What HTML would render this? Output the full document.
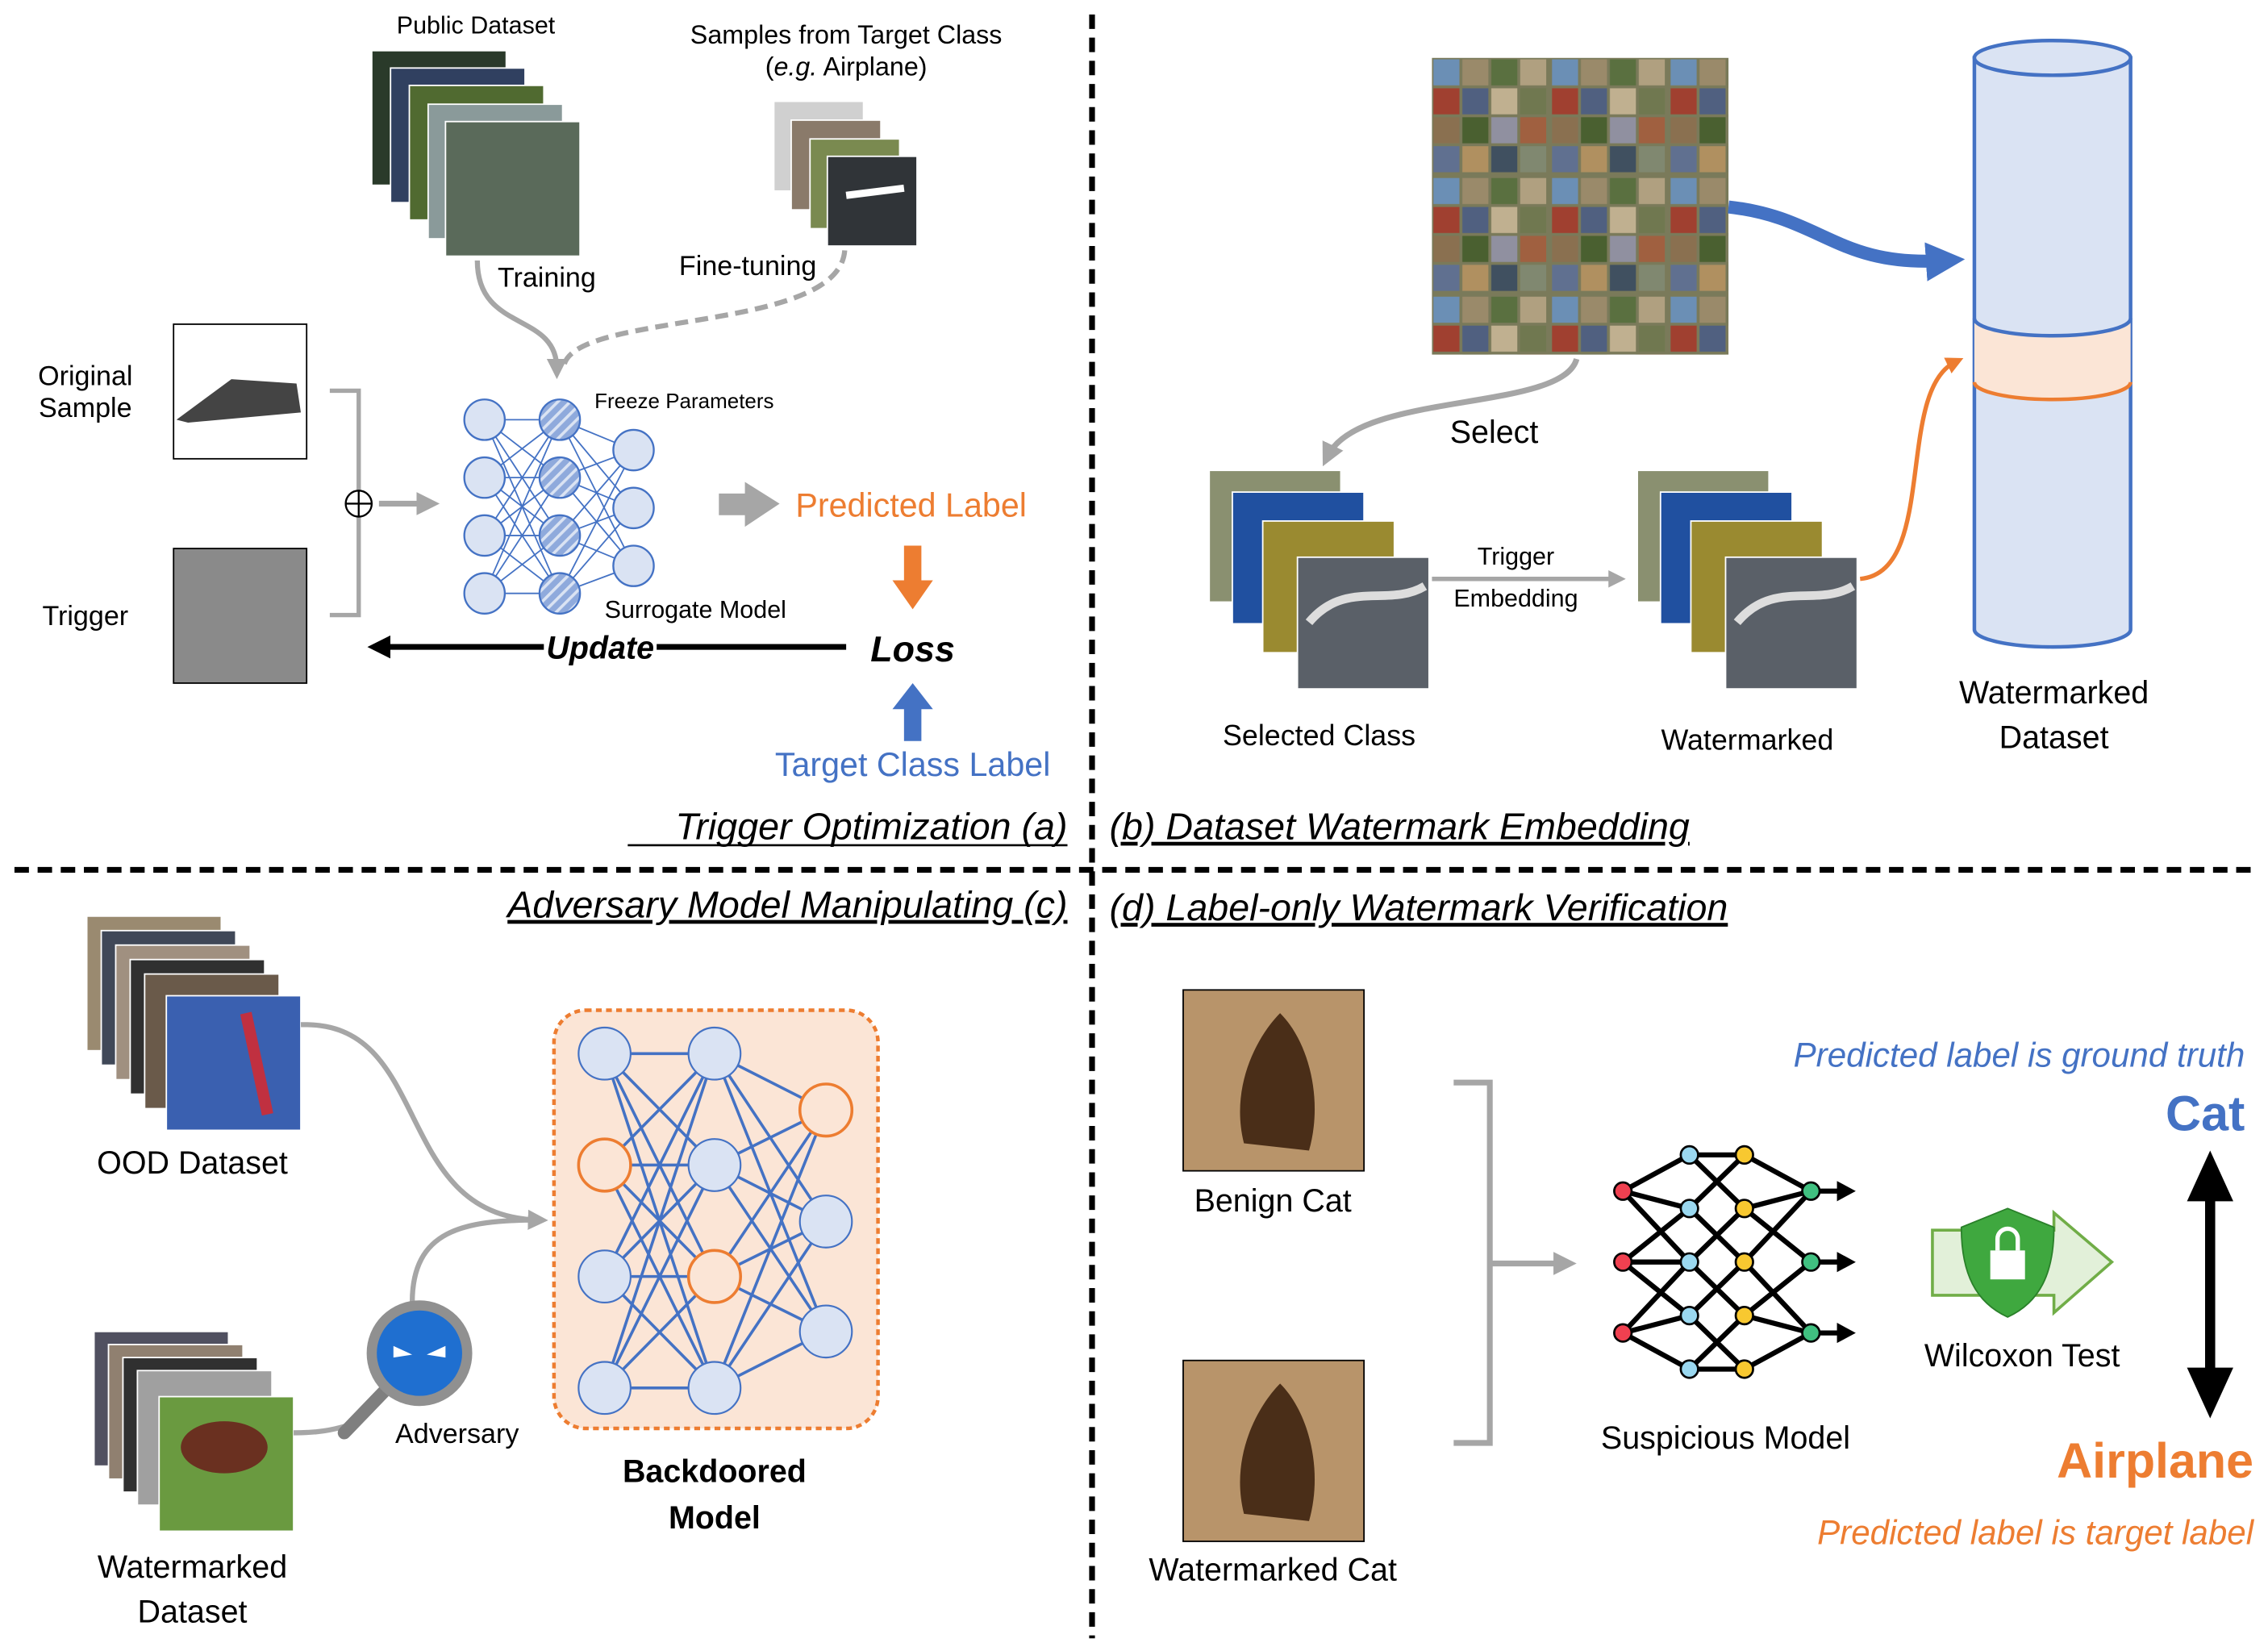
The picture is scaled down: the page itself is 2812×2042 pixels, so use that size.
<!DOCTYPE html>
<html><head><meta charset="utf-8"><style>html,body{margin:0;padding:0;background:#fff}svg{display:block}text{font-family:"Liberation Sans",sans-serif}</style></head><body>
<svg width="2812" height="2042" viewBox="0 0 1568 1138" preserveAspectRatio="none" xmlns="http://www.w3.org/2000/svg">
<defs>
<pattern id="st" width="6" height="6" patternUnits="userSpaceOnUse" patternTransform="rotate(45)"><rect width="6" height="6" fill="#8faadc"/><rect width="2" height="6" fill="#dae3f3"/></pattern>
<pattern id="grid" width="82" height="82" patternUnits="userSpaceOnUse" x="990" y="40">
<rect width="82" height="82" fill="#7a7a5a"/>
<rect x="1" y="1" width="18" height="18" fill="#6b8fb5"/><rect x="21" y="1" width="18" height="18" fill="#9a8a6a"/><rect x="41" y="1" width="18" height="18" fill="#5a7040"/><rect x="61" y="1" width="18" height="18" fill="#b0a080"/>
<rect x="1" y="21" width="18" height="18" fill="#a04030"/><rect x="21" y="21" width="18" height="18" fill="#506080"/><rect x="41" y="21" width="18" height="18" fill="#c0b090"/><rect x="61" y="21" width="18" height="18" fill="#707850"/>
<rect x="1" y="41" width="18" height="18" fill="#8a7050"/><rect x="21" y="41" width="18" height="18" fill="#4a6030"/><rect x="41" y="41" width="18" height="18" fill="#9090a0"/><rect x="61" y="41" width="18" height="18" fill="#a06040"/>
<rect x="1" y="61" width="18" height="18" fill="#607090"/><rect x="21" y="61" width="18" height="18" fill="#b09060"/><rect x="41" y="61" width="18" height="18" fill="#405060"/><rect x="61" y="61" width="18" height="18" fill="#808870"/>
</pattern>
<marker id="ag" markerWidth="4" markerHeight="4" refX="2" refY="2" orient="auto"><path d="M0,0 L4,2 L0,4z" fill="#a6a6a6"/></marker>
<marker id="ao" markerWidth="4" markerHeight="4" refX="2" refY="2" orient="auto"><path d="M0,0 L4,2 L0,4z" fill="#ed7d31"/></marker>
<marker id="ab" markerWidth="3" markerHeight="3" refX="1.5" refY="1.5" orient="auto"><path d="M0,0 L3,1.5 L0,3z" fill="#4472c4"/></marker>
<marker id="ak" markerWidth="4" markerHeight="4" refX="2" refY="2" orient="auto"><path d="M0,0 L4,2 L0,4z" fill="#000"/></marker>
</defs>
<line x1="755" y1="10" x2="755" y2="1132" stroke="#000" stroke-width="4" stroke-dasharray="10 6"/>
<line x1="10" y1="601" x2="1562" y2="601" stroke="#000" stroke-width="4" stroke-dasharray="10 6"/>

<!-- PANEL A -->
<text x="329" y="23" font-size="17" text-anchor="middle">Public Dataset</text>
<g stroke="#fff" stroke-width="1">
<rect x="257" y="35" width="93" height="93" fill="#2a3a2a"/><rect x="270" y="47" width="93" height="93" fill="#304060"/><rect x="283" y="59" width="93" height="93" fill="#506a30"/><rect x="296" y="72" width="93" height="93" fill="#8a9a9a"/><rect x="308" y="84" width="93" height="93" fill="#5a6a5a"/></g>
<text x="585" y="30" font-size="18" text-anchor="middle">Samples from Target Class</text>
<text x="585" y="52" font-size="18" text-anchor="middle">(<tspan font-style="italic">e.g.</tspan> Airplane)</text>
<g stroke="#fff"><rect x="535" y="70" width="62" height="62" fill="#d0d0d0"/><rect x="547" y="83" width="62" height="62" fill="#8a7a6a"/><rect x="560" y="96" width="62" height="62" fill="#7a8a50"/><rect x="572" y="108" width="62" height="62" fill="#303438"/></g>
<path d="M585,135 L625,130" stroke="#fff" stroke-width="5"/>
<text x="378" y="198" font-size="19" text-anchor="middle">Training</text>
<text x="517" y="190" font-size="19" text-anchor="middle">Fine-tuning</text>
<path d="M330,180 C330,230 385,215 385,255" fill="none" stroke="#a6a6a6" stroke-width="3.5" marker-end="url(#ag)"/>
<path d="M584,173 C580,230 400,215 390,252" fill="none" stroke="#a6a6a6" stroke-width="3.5" stroke-dasharray="9 5"/>
<text x="59" y="266" font-size="19" text-anchor="middle">Original</text>
<text x="59" y="288" font-size="19" text-anchor="middle">Sample</text>
<rect x="120" y="224" width="92" height="93" fill="#fff" stroke="#000"/>
<path d="M122,290 L160,262 L205,265 L208,285 L130,292z" fill="#444"/>
<text x="59" y="432" font-size="19" text-anchor="middle">Trigger</text>
<rect x="120" y="379" width="92" height="93" fill="#8a8a8a" stroke="#000"/>
<path d="M228,270 H248 V425 H228" fill="none" stroke="#a6a6a6" stroke-width="3"/>
<circle cx="248" cy="348" r="9" fill="#fff" stroke="#000" stroke-width="1.3"/><path d="M239,348 H257 M248,339 V357" stroke="#000" stroke-width="1.3"/>
<line x1="262" y1="348" x2="296" y2="348" stroke="#a6a6a6" stroke-width="4" marker-end="url(#ag)"/>
<g stroke="#4472c4" stroke-width="1" fill="none">
<path d="M335,290 L387,290 M335,290 L387,330 M335,290 L387,370 M335,290 L387,410 M335,330 L387,290 M335,330 L387,330 M335,330 L387,370 M335,330 L387,410 M335,370 L387,290 M335,370 L387,330 M335,370 L387,370 M335,370 L387,410 M335,410 L387,290 M335,410 L387,330 M335,410 L387,370 M335,410 L387,410"/>
<path d="M387,290 L438,311 M387,290 L438,351 M387,290 L438,391 M387,330 L438,311 M387,330 L438,351 M387,330 L438,391 M387,370 L438,311 M387,370 L438,351 M387,370 L438,391 M387,410 L438,311 M387,410 L438,351 M387,410 L438,391"/>
</g>
<g stroke="#4472c4" stroke-width="1.3" fill="#dae3f3">
<circle cx="335" cy="290" r="14"/><circle cx="335" cy="330" r="14"/><circle cx="335" cy="370" r="14"/><circle cx="335" cy="410" r="14"/>
<circle cx="387" cy="290" r="14" fill="url(#st)"/><circle cx="387" cy="330" r="14" fill="url(#st)"/><circle cx="387" cy="370" r="14" fill="url(#st)"/><circle cx="387" cy="410" r="14" fill="url(#st)"/>
<circle cx="438" cy="311" r="14"/><circle cx="438" cy="351" r="14"/><circle cx="438" cy="391" r="14"/></g>
<text x="411" y="282" font-size="14.5">Freeze Parameters</text>
<text x="418" y="427" font-size="17">Surrogate Model</text>
<path d="M497,341 H515 V333 L539,348 L515,364 V356 H497z" fill="#a6a6a6"/>
<text x="550" y="357" font-size="23" fill="#ed7d31">Predicted Label</text>
<path d="M625,377 H637 V401 H645 L631,421 L617,401 H625z" fill="#ed7d31"/>
<text x="631" y="457" font-size="25" font-weight="bold" font-style="italic" text-anchor="middle">Loss</text>
<line x1="585" y1="447" x2="262" y2="447" stroke="#000" stroke-width="4" marker-end="url(#ak)"/>
<rect x="376" y="433" width="78" height="26" fill="#fff"/>
<text x="415" y="455" font-size="22" font-weight="bold" font-style="italic" text-anchor="middle">Update</text>
<path d="M625,512 H637 V490 H645 L631,472 L617,490 H625z" fill="#4472c4"/>
<text x="631" y="536" font-size="23" fill="#4472c4" text-anchor="middle">Target Class Label</text>
<text x="738" y="580" font-size="26" font-style="italic" text-anchor="end">Trigger Optimization (a)</text>
<line x1="434" y1="584" x2="738" y2="584" stroke="#000" stroke-width="1.5"/>

<!-- PANEL B -->
<rect x="990" y="40" width="205" height="205" fill="url(#grid)"/>
<path d="M1195,143 C1260,150 1270,185 1345,180" fill="none" stroke="#4472c4" stroke-width="9" marker-end="url(#ab)"/>
<path d="M1365,40 V435 A54,12 0 0 0 1473,435 V40z" fill="#dae3f3" stroke="#4472c4" stroke-width="2.5"/>
<ellipse cx="1419" cy="40" rx="54" ry="12" fill="#dae3f3" stroke="#4472c4" stroke-width="2.5"/>
<path d="M1365,220 V264 A54,12 0 0 0 1473,264 V220 A54,12 0 0 1 1365,220z" fill="#fbe5d6"/>
<path d="M1365,220 A54,12 0 0 0 1473,220" fill="none" stroke="#4472c4" stroke-width="2.5"/>
<path d="M1365,264 A54,12 0 0 0 1473,264" fill="none" stroke="#ed7d31" stroke-width="2.5"/>
<path d="M1090,248 C1080,285 940,270 918,315" fill="none" stroke="#a6a6a6" stroke-width="4" marker-end="url(#ag)"/>
<text x="1033" y="306" font-size="22" text-anchor="middle">Select</text>
<g stroke="#fff"><rect x="836" y="325" width="91" height="91" fill="#8a9070"/><rect x="852" y="340" width="91" height="91" fill="#2050a0"/><rect x="873" y="360" width="91" height="91" fill="#9a8a30"/><rect x="897" y="385" width="91" height="91" fill="#5a6068"/></g>
<path d="M905,430 C930,400 960,420 985,405" stroke="#ddd" stroke-width="6" fill="none"/>
<text x="912" y="515" font-size="20" text-anchor="middle">Selected Class</text>
<text x="1048" y="390" font-size="17" text-anchor="middle">Trigger</text>
<text x="1048" y="419" font-size="17" text-anchor="middle">Embedding</text>
<line x1="990" y1="400" x2="1118" y2="400" stroke="#a6a6a6" stroke-width="3" marker-end="url(#ag)"/>
<g stroke="#fff"><rect x="1132" y="325" width="91" height="91" fill="#8a9070"/><rect x="1148" y="340" width="91" height="91" fill="#2050a0"/><rect x="1169" y="360" width="91" height="91" fill="#9a8a30"/><rect x="1193" y="385" width="91" height="91" fill="#5a6068"/></g>
<path d="M1201,430 C1226,400 1256,420 1281,405" stroke="#ddd" stroke-width="6" fill="none"/>
<text x="1208" y="518" font-size="20" text-anchor="middle">Watermarked</text>
<path d="M1286,400 C1340,395 1310,270 1352,250" fill="none" stroke="#ed7d31" stroke-width="3" marker-end="url(#ao)"/>
<text x="1420" y="486" font-size="22" text-anchor="middle">Watermarked</text>
<text x="1420" y="517" font-size="22" text-anchor="middle">Dataset</text>
<text x="767" y="580" font-size="26" font-style="italic" text-decoration="underline">(b) Dataset Watermark Embedding</text>

<!-- PANEL C -->
<text x="738" y="634" font-size="26" font-style="italic" text-anchor="end" text-decoration="underline">Adversary Model Manipulating (c)</text>
<g stroke="#fff"><rect x="60" y="633" width="93" height="93" fill="#9a8a70"/><rect x="70" y="643" width="93" height="93" fill="#404858"/><rect x="80" y="653" width="93" height="93" fill="#a09080"/><rect x="90" y="663" width="93" height="93" fill="#303030"/><rect x="100" y="673" width="93" height="93" fill="#6a5a4a"/><rect x="115" y="688" width="93" height="93" fill="#3a60b0"/></g>
<path d="M170,700 L185,770" stroke="#c03040" stroke-width="8"/>
<text x="133" y="811" font-size="22" text-anchor="middle">OOD Dataset</text>
<g stroke="#fff"><rect x="65" y="920" width="93" height="93" fill="#505060"/><rect x="75" y="929" width="93" height="93" fill="#908070"/><rect x="85" y="938" width="93" height="93" fill="#303030"/><rect x="95" y="947" width="93" height="93" fill="#a0a0a0"/><rect x="110" y="965" width="93" height="93" fill="#6a9a40"/></g>
<ellipse cx="155" cy="1000" rx="30" ry="18" fill="#6a3020"/>
<text x="133" y="1090" font-size="22" text-anchor="middle">Watermarked</text>
<text x="133" y="1121" font-size="22" text-anchor="middle">Dataset</text>
<path d="M208,708 C300,705 270,840 372,843" fill="none" stroke="#a6a6a6" stroke-width="3.5" marker-end="url(#ag)"/>
<path d="M285,900 C285,850 320,843 372,843" fill="none" stroke="#a6a6a6" stroke-width="3.5"/>
<path d="M203,990 C220,990 230,988 240,985" stroke="#a6a6a6" stroke-width="3.5" fill="none"/>
<line x1="265" y1="962" x2="238" y2="990" stroke="#7f7f7f" stroke-width="9" stroke-linecap="round"/>
<circle cx="290" cy="935" r="33" fill="#1f6fd0" stroke="#909090" stroke-width="7"/>
<path d="M272,930 L285,936 L272,938z M308,930 L295,936 L308,938z" fill="#fff"/>
<text x="316" y="997" font-size="19" text-anchor="middle">Adversary</text>
<rect x="383" y="698" width="224" height="289" rx="22" fill="#fbe5d6" stroke="#ed7d31" stroke-width="2.5" stroke-dasharray="4 3"/>
<g stroke="#4472c4" stroke-width="2" fill="none">
<path d="M418,728 L494,728 M418,728 L494,805 M418,728 L494,882 M418,728 L494,959 M418,805 L494,728 M418,805 L494,805 M418,805 L494,882 M418,805 L494,959 M418,882 L494,728 M418,882 L494,805 M418,882 L494,882 M418,882 L494,959 M418,959 L494,728 M418,959 L494,805 M418,959 L494,882 M418,959 L494,959"/>
<path d="M494,728 L571,767 M494,728 L571,844 M494,728 L571,920 M494,805 L571,767 M494,805 L571,844 M494,805 L571,920 M494,882 L571,767 M494,882 L571,844 M494,882 L571,920 M494,959 L571,767 M494,959 L571,844 M494,959 L571,920"/></g>
<g stroke="#4472c4" stroke-width="1.2" fill="#dae3f3">
<circle cx="418" cy="728" r="18"/><circle cx="418" cy="805" r="18" fill="#fbe5d6" stroke="#ed7d31" stroke-width="2"/><circle cx="418" cy="882" r="18"/><circle cx="418" cy="959" r="18"/>
<circle cx="494" cy="728" r="18"/><circle cx="494" cy="805" r="18"/><circle cx="494" cy="882" r="18" fill="#fbe5d6" stroke="#ed7d31" stroke-width="2"/><circle cx="494" cy="959" r="18"/>
<circle cx="571" cy="767" r="18" fill="#fbe5d6" stroke="#ed7d31" stroke-width="2"/><circle cx="571" cy="844" r="18"/><circle cx="571" cy="920" r="18"/></g>
<text x="494" y="1024" font-size="22" font-weight="bold" text-anchor="middle">Backdoored</text>
<text x="494" y="1056" font-size="22" font-weight="bold" text-anchor="middle">Model</text>

<!-- PANEL D -->
<text x="767" y="636" font-size="26" font-style="italic" text-decoration="underline">(d) Label-only Watermark Verification</text>
<rect x="818" y="684" width="125" height="125" fill="#b8946a" stroke="#000"/>
<path d="M860,790 C850,750 870,715 885,700 C905,720 915,760 905,795z" fill="#4a2e18"/>
<rect x="818" y="940" width="125" height="125" fill="#b8946a" stroke="#000"/>
<path d="M860,1046 C850,1006 870,971 885,956 C905,976 915,1016 905,1051z" fill="#4a2e18"/>
<text x="880" y="837" font-size="22" text-anchor="middle">Benign Cat</text>
<text x="880" y="1092" font-size="22" text-anchor="middle">Watermarked Cat</text>
<path d="M1005,748 H1030 V997 H1005" fill="none" stroke="#a6a6a6" stroke-width="4"/>
<line x1="1030" y1="873" x2="1082" y2="873" stroke="#a6a6a6" stroke-width="4" marker-end="url(#ag)"/>
<g stroke="#000" stroke-width="3.5" fill="none" stroke-linecap="round">
<path d="M1122,823 L1168,798 M1122,823 L1168,835 M1122,823 L1168,872 M1122,872 L1168,835 M1122,872 L1168,872 M1122,872 L1168,909 M1122,921 L1168,872 M1122,921 L1168,909 M1122,921 L1168,946"/>
<path d="M1168,798 L1206,798 M1168,798 L1206,835 M1168,835 L1206,798 M1168,835 L1206,872 M1168,872 L1206,835 M1168,872 L1206,909 M1168,909 L1206,872 M1168,909 L1206,946 M1168,946 L1206,909 M1168,946 L1206,946"/>
<path d="M1206,798 L1252,823 M1206,835 L1252,823 M1206,835 L1252,872 M1206,872 L1252,823 M1206,872 L1252,921 M1206,909 L1252,872 M1206,909 L1252,921 M1206,946 L1252,921"/>
<path d="M1252,823 H1272 M1252,872 H1272 M1252,921 H1272"/></g>
<path d="M1270,816 L1283,823 L1270,830z M1270,865 L1283,872 L1270,879z M1270,914 L1283,921 L1270,928z" fill="#000"/>
<g stroke="#000" stroke-width="1.5">
<circle cx="1122" cy="823" r="6" fill="#f04050"/><circle cx="1122" cy="872" r="6" fill="#f04050"/><circle cx="1122" cy="921" r="6" fill="#f04050"/>
<circle cx="1168" cy="798" r="6" fill="#9ad8f0"/><circle cx="1168" cy="835" r="6" fill="#9ad8f0"/><circle cx="1168" cy="872" r="6" fill="#9ad8f0"/><circle cx="1168" cy="909" r="6" fill="#9ad8f0"/><circle cx="1168" cy="946" r="6" fill="#9ad8f0"/>
<circle cx="1206" cy="798" r="6" fill="#f8c830"/><circle cx="1206" cy="835" r="6" fill="#f8c830"/><circle cx="1206" cy="872" r="6" fill="#f8c830"/><circle cx="1206" cy="909" r="6" fill="#f8c830"/><circle cx="1206" cy="946" r="6" fill="#f8c830"/>
<circle cx="1252" cy="823" r="6" fill="#40c080"/><circle cx="1252" cy="872" r="6" fill="#40c080"/><circle cx="1252" cy="921" r="6" fill="#40c080"/></g>
<text x="1193" y="1001" font-size="22" text-anchor="middle">Suspicious Model</text>
<path d="M1336,850 H1420 V838 L1460,872 L1420,907 V895 H1336z" fill="#e2f0d9" stroke="#70ad47" stroke-width="2"/>
<path d="M1388,835 L1420,848 C1420,880 1410,900 1388,910 C1366,900 1356,880 1356,848z" fill="#3fa83f" stroke="#2a802a"/>
<rect x="1376" y="864" width="24" height="20" fill="#fff"/><path d="M1381,864 V856 A7,7 0 0 1 1395,856 V864" fill="none" stroke="#fff" stroke-width="3"/>
<text x="1398" y="944" font-size="22" text-anchor="middle">Wilcoxon Test</text>
<text x="1552" y="737" font-size="23.5" font-style="italic" fill="#4472c4" text-anchor="end">Predicted label is ground truth</text>
<text x="1552" y="781" font-size="34" font-weight="bold" fill="#4472c4" text-anchor="end">Cat</text>
<line x1="1528" y1="815" x2="1528" y2="960" stroke="#000" stroke-width="7"/>
<path d="M1512,830 L1528,795 L1544,830z M1512,945 L1528,980 L1544,945z" fill="#000"/>
<text x="1558" y="1021" font-size="34" font-weight="bold" fill="#ed7d31" text-anchor="end">Airplane</text>
<text x="1558" y="1067" font-size="23.5" font-style="italic" fill="#ed7d31" text-anchor="end">Predicted label is target label</text>
</svg>
</body></html>
